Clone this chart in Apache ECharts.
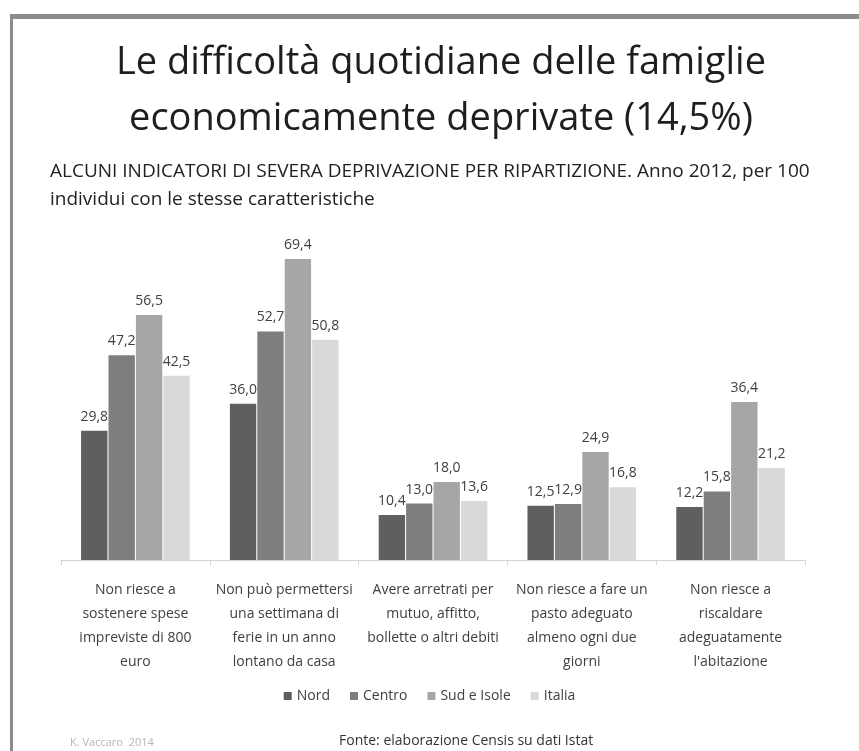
<!DOCTYPE html>
<html>
<head>
<meta charset="utf-8">
<script src="https://cdn.jsdelivr.net/npm/echarts@6/dist/echarts.min.js"></script>
<style>
  html, body { margin: 0; padding: 0; background: #fff; }
  #chart { width: 859px; height: 751px; }
</style>
</head>
<body>
<div id="chart"></div>
<script>
// categorie (etichette asse x)
var categories = [
  'Non riesce a\nsostenere spese\nimpreviste di 800\neuro',
  'Non può permettersi\nuna settimana di\nferie in un anno\nlontano da casa',
  'Avere arretrati per\nmutuo, affitto,\nbollette o altri debiti',
  'Non riesce a fare un\npasto adeguato\nalmeno ogni due\ngiorni',
  'Non riesce a\nriscaldare\nadeguatamente\nl\'abitazione'
];
var seriesNames = ['Nord', 'Centro', 'Sud e Isole', 'Italia'];
var nord   = [29.8, 36.0, 10.4, 12.5, 12.2];
var centro = [47.2, 52.7, 13.0, 12.9, 15.8];
var sud    = [56.5, 69.4, 18.0, 24.9, 36.4];
var italia = [42.5, 50.8, 13.6, 16.8, 21.2];

var colors = ['#5f5f5f', '#7e7e7e', '#a6a6a6', '#d9d9d9'];
var font = '"Open Sans", sans-serif';

function makeSeries(name, data) {
  return {
    name: name,
    type: 'bar',
    data: data,
    barGap: '4%',
    barCategoryGap: '27%',
    label: {
      show: true,
      position: 'top',
      distance: 7,
      color: '#404040',
      fontSize: 14,
      fontFamily: font,
      formatter: function (p) { return p.value.toFixed(1).replace('.', ','); }
    }
  };
}

var chart = echarts.init(document.getElementById('chart'));
chart.setOption({
  backgroundColor: '#ffffff',
  color: colors,
  animation: false,
  grid: { left: 61, right: 54, top: 213, bottom: 191 },
  xAxis: {
    type: 'category',
    data: categories,
    axisLine: { lineStyle: { color: '#d4d4d4', width: 1 } },
    axisTick: { show: true, length: 5, lineStyle: { color: '#d4d4d4' } },
    axisLabel: {
      interval: 0,
      margin: 18,
      color: '#404040',
      fontSize: 14,
      lineHeight: 24,
      fontFamily: font
    }
  },
  yAxis: { type: 'value', min: 0, max: 80, show: false, splitLine: { show: false } },
  legend: {
    data: seriesNames,
    left: 'center',
    top: 684,
    itemWidth: 8,
    itemHeight: 8,
    itemGap: 20,
    icon: 'rect',
    textStyle: { color: '#404040', fontSize: 14, fontFamily: font }
  },
  graphic: [
    { type: 'rect', shape: { x: 10, y: 14, width: 860, height: 5 }, style: { fill: '#8c8c8c' } },
    { type: 'rect', shape: { x: 10, y: 14, width: 3, height: 740 }, style: { fill: '#8c8c8c' } },
    {
      type: 'text', x: 441, y: 35,
      style: {
        text: 'Le difficoltà quotidiane delle famiglie\neconomicamente deprivate (14,5%)',
        fill: '#1e1e1e', font: '38px ' + font, lineHeight: 56, align: 'center'
      }
    },
    {
      type: 'text', left: 50, top: 158,
      style: {
        text: 'ALCUNI INDICATORI DI SEVERA DEPRIVAZIONE PER RIPARTIZIONE. Anno 2012, per 100\nindividui con le stesse caratteristiche',
        fill: '#222', font: '19px ' + font, lineHeight: 28
      }
    },
    {
      type: 'text', left: 339, top: 734,
      style: { text: 'Fonte: elaborazione Censis su dati Istat', fill: '#333', font: '14px ' + font }
    },
    {
      type: 'text', left: 70, top: 737,
      style: { text: 'K. Vaccaro  2014', fill: '#b5b5b5', font: '11px ' + font }
    }
  ],
  series: [
    makeSeries(seriesNames[0], nord),
    makeSeries(seriesNames[1], centro),
    makeSeries(seriesNames[2], sud),
    makeSeries(seriesNames[3], italia)
  ]
});
</script>
</body>
</html>
